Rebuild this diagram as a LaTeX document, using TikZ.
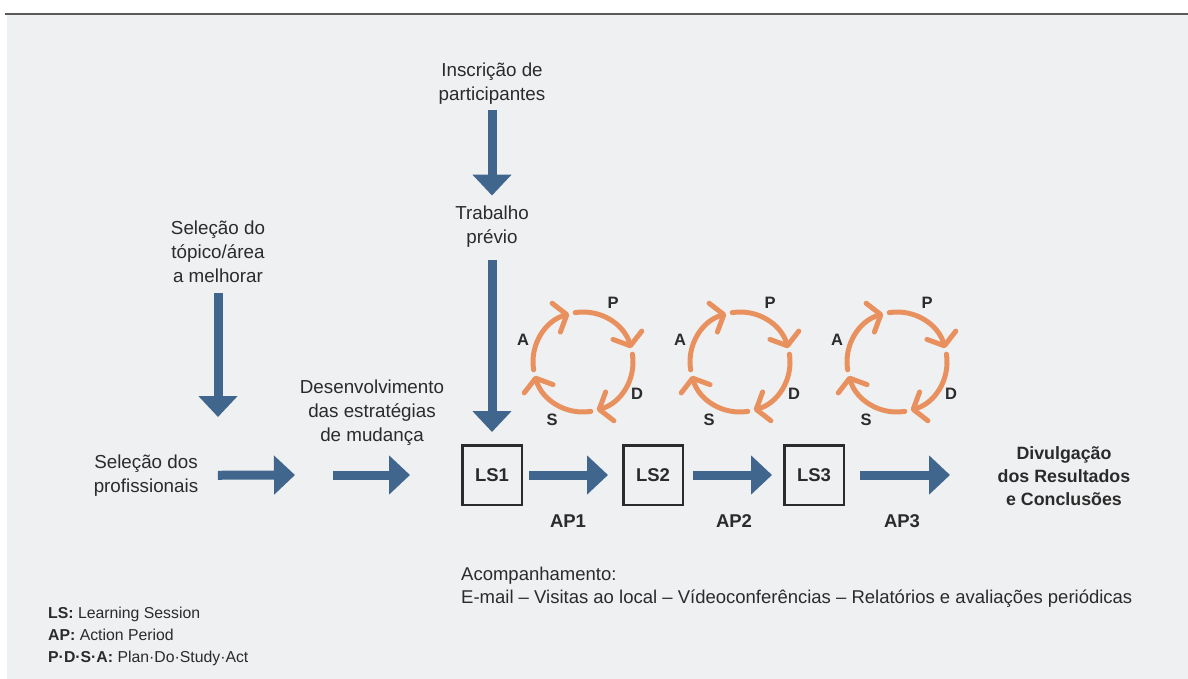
\documentclass[tikz,border=0pt]{standalone}
\usepackage{fontspec}
\setmainfont{Liberation Sans}
\usepackage{xcolor}
\usepackage{tikz}
\usetikzlibrary{arrows.meta}

\definecolor{bggray}{HTML}{EFF0F2}
\definecolor{flowblue}{HTML}{41668E}
\definecolor{pdsaorange}{HTML}{E8915E}
\definecolor{txtdark}{HTML}{2B2B2B}

\tikzset{
  flow/.style={draw=flowblue,line width=9pt,-{Triangle[length=21pt,width=38pt]}},
  lbl/.style={align=center,text=txtdark,inner sep=2pt,font=\fontsize{18.8}{24}\selectfont},
  lsbox/.style={draw=txtdark,line width=2.5pt,minimum size=59.5pt,inner sep=0pt,text=txtdark,font=\fontsize{18.5}{20}\selectfont\bfseries},
  cyc/.style={draw=pdsaorange,line width=5pt,line cap=round,-{Straight Barb[length=11pt,width=30pt,round]}},
  pdsa/.style={text=txtdark,inner sep=0pt,font=\fontsize{16.5}{18}\selectfont\bfseries},
}

\begin{document}
\begin{tikzpicture}[x=1pt,y=1pt]
  \useasboundingbox (0,0) rectangle (1188,-679);
  \fill[bggray] (7,-14) rectangle (1188,-679);
  \draw[line width=2pt,black!65] (5,-14) -- (1188,-14);

  % text blocks
  \node[lbl] (inscr) at (492,-84) {Inscrição de\\participantes};
  \node[lbl] (trab) at (492,-227) {Trabalho\\prévio};
  \node[lbl] (topico) at (218,-252) {Seleção do\\tópico/área\\a melhorar};
  \node[lbl] (selprof) at (146,-475.5) {Seleção dos\\profissionais};
  \node[lbl] (desenv) at (372,-413) {Desenvolvimento\\das estratégias\\de mudança};
  \node[lbl,font=\fontsize{17.8}{23}\selectfont\bfseries] (divulg) at (1064,-476) {Divulgação\\dos Resultados\\e Conclusões};

  \node[lsbox] (ls1) at (492,-475) {LS1};
  \node[lsbox] (ls2) at (653,-475) {LS2};
  \node[lsbox] (ls3) at (814,-475) {LS3};

  \node[lbl,font=\fontsize{18.5}{20}\selectfont\bfseries] (ap1) at (568,-521) {AP1};
  \node[lbl,font=\fontsize{18.5}{20}\selectfont\bfseries] (ap2) at (734,-521) {AP2};
  \node[lbl,font=\fontsize{18.5}{20}\selectfont\bfseries] (ap3) at (902,-521) {AP3};

  \node[lbl,align=left,anchor=north west,inner sep=0pt,font=\fontsize{18.5}{23}\selectfont] (acomp) at (461,-567)
    {Acompanhamento:\\E-mail -- Visitas ao local -- Vídeoconferências -- Relatórios e avaliações periódicas};
  \node[lbl,align=left,anchor=north west,inner sep=0pt,font=\fontsize{15.8}{22}\selectfont] (legenda) at (48,-607)
    {\textbf{LS:} Learning Session\\\textbf{AP:} Action Period\\\textbf{P·D·S·A:} Plan·Do·Study·Act};

  \coordinate (t1) at (218,-417);
  \coordinate (p2) at (295,-475);
  \coordinate (p3) at (333,-475);
  \coordinate (p5) at (950,-475);

  % arrows
  \draw[flow,shorten <=3pt,shorten >=8.5pt] (inscr) -- (trab);
  \draw[flow,shorten <=10pt,shorten >=12pt] (trab) -- (ls1);
  \draw[flow,shorten <=8pt] (topico) -- (t1);
  \draw[flow,shorten <=17.5pt] (selprof) -- (p2);
  \draw[flow,shorten >=51pt] (p3) -- (ls1);
  \draw[flow,shorten <=6pt,shorten >=14pt] (ls1) -- (ls2);
  \draw[flow,shorten <=9pt,shorten >=11pt] (ls2) -- (ls3);
  \draw[flow,shorten <=15pt] (ls3) -- (p5);

  % PDSA cycles
  \foreach \cx in {583,740,897}{
    \draw[cyc] (\cx,-362) ++(99:50) arc[start angle=99,end angle=16,radius=50];
    \draw[cyc] (\cx,-362) ++(9:50) arc[start angle=9,end angle=-74,radius=50];
    \draw[cyc] (\cx,-362) ++(-81:50) arc[start angle=-81,end angle=-164,radius=50];
    \draw[cyc] (\cx,-362) ++(189:50) arc[start angle=189,end angle=106,radius=50];
    \node[pdsa] at (\cx+30,-303) {P};
    \node[pdsa] at (\cx+54,-394) {D};
    \node[pdsa] at (\cx-31,-420) {S};
    \node[pdsa] at (\cx-60,-340) {A};
  }
\end{tikzpicture}
\end{document}
